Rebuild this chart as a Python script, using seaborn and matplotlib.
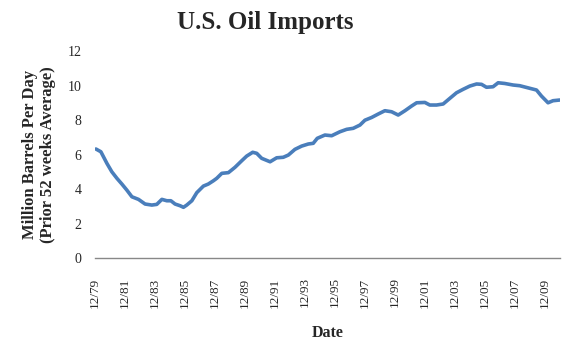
#####----- U.S. oil imports, prior 52 weeks average

#####----- IMPORTS
import numpy as np
import pandas as pd
import seaborn as sns
import matplotlib
matplotlib.use("Agg")
import matplotlib.pyplot as plt

#####----- DATA
years = [1980.05, 1980.38, 1980.78, 1981.11, 1981.45, 1981.78, 1982.11, 1982.45, 1982.89, 1983.33,
         1983.78, 1984.11, 1984.45, 1984.78, 1985.05, 1985.33, 1985.67, 1985.89, 1986.11, 1986.45,
         1986.78, 1987.22, 1987.55, 1987.89, 1988.11, 1988.45, 1988.89, 1989.33, 1989.78, 1990.11,
         1990.51, 1990.78, 1991.11, 1991.67, 1992.11, 1992.55, 1992.89, 1993.33, 1993.78, 1994.22,
         1994.55, 1994.82, 1995.33, 1995.78, 1996.33, 1996.78, 1997.22, 1997.67, 1998.00, 1998.45,
         1998.89, 1999.33, 1999.78, 2000.22, 2000.67, 2001.11, 2001.45, 2002.00, 2002.33, 2002.78,
         2003.22, 2003.67, 2004.11, 2004.55, 2005.00, 2005.45, 2005.78, 2006.11, 2006.55, 2006.89,
         2007.33, 2007.89, 2008.33, 2009.00, 2009.45, 2009.78, 2010.22, 2010.55, 2011.00]
imports = [6.32, 6.16, 5.49, 5.00, 4.62, 4.29, 3.94, 3.55, 3.40, 3.13,
           3.07, 3.11, 3.40, 3.32, 3.32, 3.13, 3.03, 2.94, 3.07, 3.32,
           3.79, 4.17, 4.29, 4.48, 4.62, 4.91, 4.95, 5.26, 5.64, 5.91,
           6.13, 6.07, 5.78, 5.58, 5.81, 5.84, 5.97, 6.30, 6.49, 6.61,
           6.65, 6.94, 7.13, 7.09, 7.32, 7.46, 7.52, 7.71, 7.99, 8.15,
           8.35, 8.54, 8.48, 8.29, 8.54, 8.81, 9.00, 9.02, 8.87, 8.87,
           8.93, 9.26, 9.58, 9.78, 9.97, 10.09, 10.07, 9.90, 9.93, 10.16,
           10.12, 10.03, 9.99, 9.84, 9.74, 9.39, 9.00, 9.12, 9.16]
tick_years = list(range(1980, 2011, 2))
tick_labels = ["12/79", "12/81", "12/83", "12/85", "12/87", "12/89", "12/91", "12/93",
               "12/95", "12/97", "12/99", "12/01", "12/03", "12/05", "12/07", "12/09"]
y_ticks = [0, 2, 4, 6, 8, 10, 12]

#####----- PLOT
df = pd.DataFrame({"year": years, "imports": imports})

sns.set_style("white")
plt.rcParams["font.family"] = ["Liberation Serif", "DejaVu Serif"]

fig = plt.figure(figsize=(5.7, 3.52), dpi=100)
ax = fig.add_axes([0.167, 0.267, 0.815, 0.588])

sns.lineplot(data=df, x="year", y="imports", ax=ax, color="#4a7ebb", linewidth=2.6)

ax.set_xlim(1980, 2011)
ax.set_ylim(0, 12)
ax.set_xticks(tick_years)
ax.set_xticklabels(tick_labels, rotation=90, fontsize=9.5)
ax.set_yticks(y_ticks)
ax.set_yticklabels([str(v) for v in y_ticks], fontsize=10)
ax.tick_params(axis="both", length=0)
ax.tick_params(axis="y", pad=10)
ax.tick_params(axis="x", pad=14)

for side in ["left", "top", "right"]:
    ax.spines[side].set_visible(False)
ax.spines["bottom"].set_color("#888888")
ax.spines["bottom"].set_linewidth(1.0)

ax.set_xlabel("Date", fontsize=11.5, fontweight="bold", labelpad=12)
ax.set_ylabel("Million Barrels Per Day\n(Prior 52 weeks Average)", fontsize=12,
              fontweight="bold", labelpad=8, linespacing=1.15)
fig.suptitle("U.S. Oil Imports", fontsize=18, fontweight="bold", x=0.465, y=0.97)

plt.savefig("out.png", dpi=100)
